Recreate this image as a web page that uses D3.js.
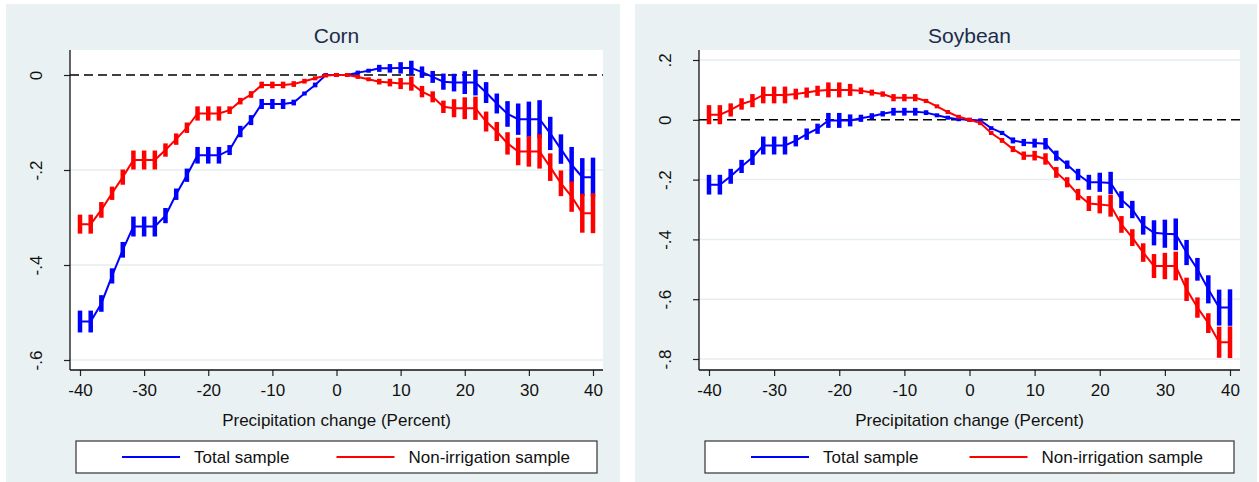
<!DOCTYPE html>
<html>
<head>
<meta charset="utf-8">
<script src="https://cdn.jsdelivr.net/npm/d3@7"></script>
<style>
  body { margin: 0; background: #fff; }
  svg text { font-family: "Liberation Sans", Arial, sans-serif; }
</style>
</head>
<body>
<div id="chart"></div>
<script>
// precipitation change grid (percent)
var precipChange = [-40, -38.33, -36.67, -35, -33.33, -31.67, -30, -28.33, -26.67, -25,
  -23.33, -21.67, -20, -18.33, -16.67, -15, -13.33, -11.67, -10, -8.33, -6.67, -5, -3.33, -1.67,
  0, 1.67, 3.33, 5, 6.67, 8.33, 10, 11.67, 13.33, 15, 16.67, 18.33, 20, 21.67, 23.33, 25,
  26.67, 28.33, 30, 31.67, 33.33, 35, 36.67, 38.33, 40];

// corn - total sample (estimate, half width of CI)
var cornTotalEst = [-0.519, -0.519, -0.481, -0.423, -0.368, -0.319, -0.319, -0.319, -0.296, -0.251,
  -0.211, -0.169, -0.169, -0.169, -0.158, -0.119, -0.095, -0.061, -0.061, -0.061, -0.058, -0.039, -0.021, 0,
  0, 0, 0.005, 0.009, 0.014, 0.014, 0.015, 0.015, 0.006, -0.004, -0.014, -0.016, -0.016, -0.016, -0.037, -0.060,
  -0.082, -0.093, -0.093, -0.093, -0.123, -0.156, -0.189, -0.215, -0.215];
var cornTotalCI = [0.023, 0.023, 0.0175, 0.016, 0.0165, 0.021, 0.021, 0.021, 0.016, 0.012,
  0.014, 0.0175, 0.0175, 0.0175, 0.0105, 0.012, 0.0105, 0.0105, 0.0105, 0.0105, 0.006, 0.004, 0.005, 0.0035,
  0.003, 0.003, 0.003, 0.004, 0.0074, 0.009, 0.012, 0.015, 0.012, 0.0126, 0.017, 0.0186, 0.024, 0.027, 0.022, 0.021,
  0.027, 0.033, 0.037, 0.040, 0.035, 0.031, 0.0375, 0.040, 0.041];

// corn - non-irrigation sample
var cornNonIrrEst = [-0.314, -0.314, -0.284, -0.249, -0.215, -0.179, -0.179, -0.179, -0.158, -0.135,
  -0.111, -0.081, -0.081, -0.081, -0.074, -0.055, -0.041, -0.021, -0.021, -0.021, -0.019, -0.013, -0.007, -0.001,
  0, 0, -0.004, -0.009, -0.014, -0.016, -0.018, -0.018, -0.035, -0.046, -0.067, -0.070, -0.070, -0.070, -0.098, -0.119,
  -0.144, -0.161, -0.161, -0.161, -0.194, -0.228, -0.256, -0.291, -0.291];
var cornNonIrrCI = [0.020, 0.020, 0.0165, 0.014, 0.016, 0.020, 0.020, 0.020, 0.014, 0.012,
  0.011, 0.015, 0.015, 0.015, 0.008, 0.007, 0.007, 0.007, 0.007, 0.007, 0.006, 0.005, 0.004, 0.003,
  0.003, 0.003, 0.003, 0.004, 0.006, 0.008, 0.0116, 0.015, 0.012, 0.0116, 0.013, 0.019, 0.023, 0.0245, 0.021, 0.020,
  0.0235, 0.029, 0.032, 0.036, 0.029, 0.027, 0.032, 0.041, 0.042];

// soybean - total sample
var soyTotalEst = [-0.217, -0.217, -0.189, -0.156, -0.126, -0.086, -0.086, -0.086, -0.070, -0.048,
  -0.030, -0.002, -0.002, -0.002, 0.005, 0.012, 0.020, 0.027, 0.027, 0.027, 0.024, 0.015, 0.007, 0.002,
  0, -0.002, -0.028, -0.044, -0.069, -0.076, -0.078, -0.080, -0.120, -0.150, -0.183, -0.209, -0.209, -0.211, -0.267, -0.300,
  -0.353, -0.378, -0.381, -0.383, -0.444, -0.500, -0.567, -0.628, -0.628];
var soyTotalCI = [0.033, 0.033, 0.025, 0.022, 0.025, 0.030, 0.030, 0.030, 0.019, 0.019,
  0.017, 0.025, 0.025, 0.020, 0.012, 0.010, 0.009, 0.013, 0.013, 0.013, 0.008, 0.006, 0.005, 0.004,
  0.003, 0.003, 0.005, 0.007, 0.010, 0.012, 0.015, 0.019, 0.017, 0.014, 0.019, 0.025, 0.032, 0.037, 0.028, 0.029,
  0.031, 0.042, 0.047, 0.053, 0.042, 0.038, 0.047, 0.060, 0.061];

// soybean - non-irrigation sample
var soyNonIrrEst = [0.017, 0.017, 0.033, 0.053, 0.064, 0.083, 0.083, 0.083, 0.086, 0.091,
  0.097, 0.100, 0.100, 0.100, 0.097, 0.091, 0.086, 0.074, 0.074, 0.074, 0.063, 0.045, 0.026, 0.010,
  0, -0.011, -0.044, -0.069, -0.098, -0.120, -0.120, -0.131, -0.176, -0.209, -0.250, -0.280, -0.283, -0.287, -0.350, -0.394,
  -0.444, -0.489, -0.489, -0.489, -0.567, -0.628, -0.680, -0.744, -0.744];
var soyNonIrrCI = [0.032, 0.032, 0.022, 0.019, 0.022, 0.028, 0.028, 0.028, 0.018, 0.017,
  0.017, 0.025, 0.025, 0.020, 0.011, 0.010, 0.009, 0.012, 0.012, 0.012, 0.007, 0.006, 0.005, 0.004,
  0.003, 0.004, 0.006, 0.008, 0.010, 0.014, 0.016, 0.019, 0.018, 0.017, 0.019, 0.025, 0.030, 0.037, 0.028, 0.028,
  0.031, 0.040, 0.044, 0.048, 0.039, 0.034, 0.033, 0.052, 0.053];

// axis ticks
var xTicks = [-40, -30, -20, -10, 0, 10, 20, 30, 40];
var xLabels = ["-40", "-30", "-20", "-10", "0", "10", "20", "30", "40"];
var cornYTicks = [0, -0.2, -0.4, -0.6];
var cornYLabels = ["0", "-.2", "-.4", "-.6"];
var soyYTicks = [0.2, 0, -0.2, -0.4, -0.6, -0.8];
var soyYLabels = [".2", "0", "-.2", "-.4", "-.6", "-.8"];
var legendLabels = ["Total sample", "Non-irrigation sample"];

var bgColor = "#eaf1f3";
var gridColor = "#e6eef1";
var blue = "#0000ff";
var red = "#ff0000";

var svg = d3.select("#chart").append("svg")
    .attr("width", 1259)
    .attr("height", 482);

function drawPanel(cfg) {
    // graph region
    svg.append("rect")
        .attr("x", cfg.bgLeft).attr("y", 4)
        .attr("width", cfg.bgRight - cfg.bgLeft).attr("height", 478)
        .attr("fill", bgColor);

    // plot region
    svg.append("rect")
        .attr("x", cfg.left).attr("y", cfg.top)
        .attr("width", cfg.right - cfg.left).attr("height", cfg.bottom - cfg.top)
        .attr("fill", "#fff");

    var xScale = d3.scaleLinear()
        .domain([-40, 40])
        .range([cfg.left + 10, cfg.right - 10]);

    var yScale = d3.scaleLinear()
        .domain([cfg.yTicks[cfg.yTicks.length - 1], cfg.yTicks[0]])
        .range([cfg.yBottomPx, cfg.yTopPx]);

    var g = svg.append("g");

    // grid lines (0 is covered by dashed reference line)
    g.selectAll(".grid")
        .data(cfg.yTicks.filter(function(d) { return d !== 0; }))
        .enter()
        .append("line")
        .attr("x1", cfg.left).attr("x2", cfg.right)
        .attr("y1", function(d) { return yScale(d); })
        .attr("y2", function(d) { return yScale(d); })
        .attr("stroke", gridColor)
        .attr("stroke-width", 1.5);

    // zero reference line
    g.append("line")
        .attr("x1", cfg.left).attr("x2", cfg.right)
        .attr("y1", yScale(0)).attr("y2", yScale(0))
        .attr("stroke", "#000")
        .attr("stroke-width", 1.4)
        .attr("stroke-dasharray", "9,5");

    // axes
    var axisY = d3.axisLeft(yScale)
        .tickValues(cfg.yTicks)
        .tickFormat(function(d, i) { return cfg.yLabels[i]; })
        .tickSize(6);
    var gy = g.append("g")
        .attr("transform", "translate(" + cfg.left + ",0)")
        .call(axisY);
    gy.select(".domain").remove();
    gy.selectAll(".tick line").attr("stroke", "#222").attr("stroke-width", 1.2);
    gy.selectAll(".tick text")
        .attr("transform", "rotate(-90)")
        .attr("x", 0).attr("y", -28).attr("dy", 0)
        .attr("text-anchor", "middle")
        .attr("font-size", 17)
        .attr("fill", "#111");

    var axisX = d3.axisBottom(xScale)
        .tickValues(xTicks)
        .tickFormat(function(d, i) { return xLabels[i]; })
        .tickSize(6);
    var gx = g.append("g")
        .attr("transform", "translate(0," + cfg.bottom + ")")
        .call(axisX);
    gx.select(".domain").remove();
    gx.selectAll(".tick line").attr("stroke", "#222").attr("stroke-width", 1.2);
    gx.selectAll(".tick text")
        .attr("y", 14)
        .attr("font-size", 17)
        .attr("fill", "#111");

    g.append("line")
        .attr("x1", cfg.left).attr("x2", cfg.left)
        .attr("y1", cfg.top).attr("y2", cfg.bottom)
        .attr("stroke", "#111").attr("stroke-width", 1.3);
    g.append("line")
        .attr("x1", cfg.left).attr("x2", cfg.right)
        .attr("y1", cfg.bottom).attr("y2", cfg.bottom)
        .attr("stroke", "#111").attr("stroke-width", 1.3);

    // series: line through estimates + thick CI spikes
    cfg.series.forEach(function(s) {
        var rows = precipChange.map(function(x, i) {
            return {x: x, est: s.est[i], ci: s.ci[i]};
        });
        var line = d3.line()
            .x(function(d) { return xScale(d.x); })
            .y(function(d) { return yScale(d.est); });
        g.append("path")
            .datum(rows)
            .attr("d", line)
            .attr("fill", "none")
            .attr("stroke", s.color)
            .attr("stroke-width", 2);
        g.selectAll(null)
            .data(rows)
            .enter()
            .append("rect")
            .attr("x", function(d) { return xScale(d.x) - 2.25; })
            .attr("width", 4.5)
            .attr("y", function(d) {
                var h = Math.max(4, yScale(d.est - d.ci) - yScale(d.est + d.ci));
                return yScale(d.est) - h / 2;
            })
            .attr("height", function(d) {
                return Math.max(4, yScale(d.est - d.ci) - yScale(d.est + d.ci));
            })
            .attr("fill", s.color);
    });

    // title
    var mid = (cfg.left + cfg.right) / 2;
    svg.append("text")
        .attr("x", mid).attr("y", 43)
        .attr("text-anchor", "middle")
        .attr("font-size", 21)
        .attr("fill", "#1e2c4a")
        .text(cfg.title);

    // x axis title
    svg.append("text")
        .attr("x", mid).attr("y", 426)
        .attr("text-anchor", "middle")
        .attr("font-size", 17)
        .attr("fill", "#111")
        .text("Precipitation change (Percent)");

    // legend
    var lx = cfg.left + 6, rx = cfg.right - 6;
    svg.append("rect")
        .attr("x", lx).attr("y", 441)
        .attr("width", rx - lx).attr("height", 32)
        .attr("fill", "#fff")
        .attr("stroke", "#333")
        .attr("stroke-width", 1.2);
    var itemX = [lx + 46, mid];
    cfg.series.forEach(function(s, i) {
        svg.append("line")
            .attr("x1", itemX[i]).attr("x2", itemX[i] + 58)
            .attr("y1", 457).attr("y2", 457)
            .attr("stroke", s.color).attr("stroke-width", 2);
        svg.append("text")
            .attr("x", itemX[i] + 72).attr("y", 463)
            .attr("font-size", 17)
            .attr("fill", "#111")
            .text(legendLabels[i]);
    });
}

drawPanel({
    title: "Corn",
    bgLeft: 6, bgRight: 620,
    left: 70, right: 603, top: 50, bottom: 370,
    yTicks: cornYTicks, yLabels: cornYLabels,
    yTopPx: 75, yBottomPx: 360,
    series: [
        {est: cornTotalEst, ci: cornTotalCI, color: blue},
        {est: cornNonIrrEst, ci: cornNonIrrCI, color: red}
    ]
});

drawPanel({
    title: "Soybean",
    bgLeft: 635, bgRight: 1257,
    left: 699, right: 1240, top: 50, bottom: 370,
    yTicks: soyYTicks, yLabels: soyYLabels,
    yTopPx: 60, yBottomPx: 359,
    series: [
        {est: soyTotalEst, ci: soyTotalCI, color: blue},
        {est: soyNonIrrEst, ci: soyNonIrrCI, color: red}
    ]
});
</script>
</body>
</html>
